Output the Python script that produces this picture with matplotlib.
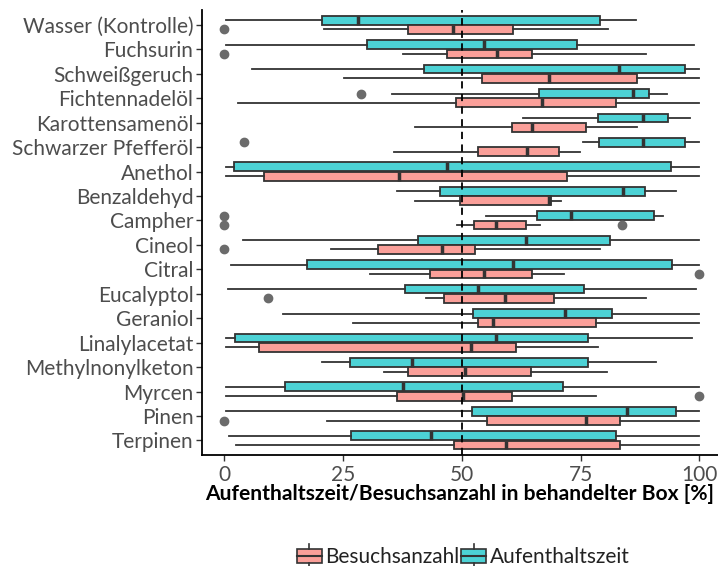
import matplotlib
matplotlib.use("Agg")
import matplotlib.pyplot as plt
from matplotlib.patches import Rectangle, Patch
from matplotlib.lines import Line2D
from matplotlib.legend_handler import HandlerBase

plt.rcParams['font.family'] = ['Lato', 'DejaVu Sans']

categories = ["Wasser (Kontrolle)", "Fuchsurin", "Schweißgeruch", "Fichtennadelöl",
              "Karottensamenöl", "Schwarzer Pfefferöl", "Anethol", "Benzaldehyd",
              "Campher", "Cineol", "Citral", "Eucalyptol", "Geraniol", "Linalylacetat",
              "Methylnonylketon", "Myrcen", "Pinen", "Terpinen"]

# Aufenthaltszeit (tuerkis)
auf_whislo = [0.5, 0.4, 5.8, 35.4, 62.9, 75.6, 0.4, 36.3, 55.1, 4.0, 1.4, 0.8, 12.4, 0.5, 20.5, 0.4, 0.4, 1.1]
auf_q1 = [20.7, 30.0, 42.0, 66.2, 78.7, 78.9, 2.0, 45.4, 65.9, 40.8, 17.5, 38.0, 52.4, 2.2, 26.5, 12.8, 52.2, 26.6]
auf_med = [28.1, 54.6, 83.0, 86.1, 88.2, 88.1, 46.9, 84.0, 72.9, 63.6, 60.7, 53.5, 71.7, 57.2, 39.6, 37.7, 84.7, 43.5]
auf_q3 = [79.1, 74.3, 97.0, 89.3, 93.3, 97.0, 94.0, 88.6, 90.5, 81.1, 94.3, 75.7, 81.5, 76.5, 76.5, 71.2, 95.1, 82.5]
auf_whishi = [86.6, 98.9, 100, 93.1, 98.0, 100, 100, 95.0, 92.4, 100, 100, 99.2, 100, 98.4, 90.9, 100, 100, 100]
auf_fliers = [[], [], [], [28.8], [], [4.2], [], [], [0], [], [], [], [], [], [], [], [], []]

# Besuchsanzahl (lachs)
bes_whislo = [21.0, 37.7, 25.3, 2.9, 40.2, 35.7, 0.4, 40.2, 48.9, 22.5, 30.7, 42.5, 27.2, 0.4, 33.6, 0.4, 21.7, 2.5]
bes_q1 = [38.6, 46.9, 54.2, 48.7, 60.5, 53.5, 8.4, 49.6, 52.6, 32.3, 43.4, 46.3, 53.5, 7.3, 38.6, 36.4, 55.4, 48.4]
bes_med = [48.2, 57.5, 68.4, 66.8, 64.7, 63.8, 36.8, 68.4, 57.2, 45.8, 54.7, 59.1, 56.6, 51.9, 50.7, 50.3, 76.1, 59.4]
bes_q3 = [60.8, 64.7, 86.9, 82.5, 76.1, 70.4, 72.1, 68.7, 63.5, 52.8, 64.7, 69.5, 78.2, 61.4, 64.5, 60.6, 83.3, 83.3]
bes_whishi = [80.7, 88.7, 100, 100, 86.9, 74.9, 100, 70.8, 66.5, 79.1, 71.4, 88.7, 100, 78.7, 80.5, 78.2, 100, 100]
bes_fliers = [[0], [0], [], [], [], [], [], [], [0, 83.6], [0], [100], [9.3], [], [], [], [100], [0], []]

xticks = [0, 25, 50, 75, 100]

col_bes = "#FA9F99"
col_auf = "#4CD2D5"
edge = "#333333"


def stats(lo, q1, med, q3, hi, fl):
    return [dict(whislo=a, q1=b, med=c, q3=d, whishi=e, fliers=f)
            for a, b, c, d, e, f in zip(lo, q1, med, q3, hi, fl)]


fig = plt.figure(figsize=(7.18, 5.66), dpi=100)
ax = fig.add_axes([0.281, 0.196, 0.719, 0.786])

ax.axvline(50, color="black", lw=1.3, ls=(0, (4, 3)), zorder=3)

n = len(categories)
off = 0.19
w = 0.36
for st, col, sgn in [(stats(auf_whislo, auf_q1, auf_med, auf_q3, auf_whishi, auf_fliers), col_auf, -1),
                     (stats(bes_whislo, bes_q1, bes_med, bes_q3, bes_whishi, bes_fliers), col_bes, 1)]:
    ax.bxp(st, positions=[i + sgn * off for i in range(n)], widths=w,
           orientation="horizontal", patch_artist=True, showcaps=False,
           boxprops=dict(facecolor=col, edgecolor=edge, linewidth=1.3),
           whiskerprops=dict(color=edge, linewidth=1.3),
           medianprops=dict(color=edge, linewidth=2.5),
           flierprops=dict(marker="o", markerfacecolor="#6b6b6b", markeredgecolor="#6b6b6b",
                           markersize=6))

ax.set_yticks(range(n))
ax.set_yticklabels(categories)
ax.set_ylim(n - 0.4, -0.6)
ax.set_xlim(-4.7, 103.9)
ax.set_xticks(xticks)
ax.set_xticklabels([str(t) for t in xticks])
ax.tick_params(axis="both", labelsize=15, labelcolor="#4D4D4D", color="#333333", length=4, width=1)
ax.tick_params(axis="y", pad=2)
ax.spines["top"].set_visible(False)
ax.spines["right"].set_visible(False)
for s in ["left", "bottom"]:
    ax.spines[s].set_linewidth(1.3)
    ax.spines[s].set_color("black")
ax.set_xlabel("Aufenthaltszeit/Besuchsanzahl in behandelter Box [%]",
              fontsize=15.1, fontweight="bold", color="black", labelpad=-1)


class BoxKey(HandlerBase):
    def create_artists(self, legend, orig_handle, xdescent, ydescent, width, height, fontsize, trans):
        x0, y0 = -xdescent, -ydescent
        fc = orig_handle.get_facecolor()
        box = Rectangle((x0, y0 + height * 0.1), width, height * 0.8, facecolor=fc,
                        edgecolor=edge, lw=1.2, transform=trans)
        mid = Line2D([x0, x0 + width], [y0 + height / 2] * 2, color=edge, lw=1.5, transform=trans)
        top = Line2D([x0 + width / 2] * 2, [y0 + height * 0.9, y0 + height * 1.15], color=edge, lw=1.2, transform=trans)
        bot = Line2D([x0 + width / 2] * 2, [y0 - height * 0.15, y0 + height * 0.1], color=edge, lw=1.2, transform=trans)
        return [box, mid, top, bot]


handles = [Patch(facecolor=col_bes), Patch(facecolor=col_auf)]
fig.legend(handles, ["Besuchsanzahl", "Aufenthaltszeit"], loc="center", bbox_to_anchor=(0.645, 0.016),
           ncol=2, frameon=False, fontsize=15, handler_map={Patch: BoxKey()},
           handlelength=1.2, handleheight=1.0, handletextpad=0.15, columnspacing=0.1,
           borderpad=0.2, labelcolor="#222222")

fig.savefig("out.png", dpi=100)
